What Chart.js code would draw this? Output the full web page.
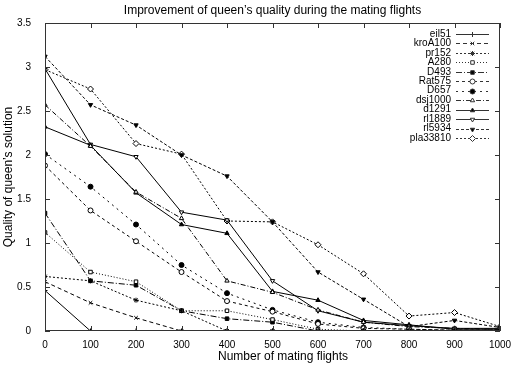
<!DOCTYPE html>
<html>
<head>
<meta charset="utf-8">
<title>Improvement of queen's quality during the mating flights</title>
<script src="https://cdn.jsdelivr.net/npm/chart.js"></script>
<style>
  html, body { margin: 0; padding: 0; background: #fff; }
  .chart__container { position: relative; width: 513px; height: 366px; }
</style>
</head>
<body>
<div class="chart__container">
  <canvas id="my-chart" width="513" height="366"></canvas>
</div>
<script>
const flights = [0, 100, 200, 300, 400, 500, 600, 700, 800, 900, 1000];
const yTicks = [0, 0.5, 1, 1.5, 2, 2.5, 3, 3.5];

const eil51    = [0.46, 0, 0, 0, 0, 0, 0, 0, 0, 0, 0];
const kroA100  = [0.56, 0.32, 0.15, 0, 0, 0, 0, 0, 0, 0, 0];
const pr152    = [0.62, 0.57, 0.35, 0.23, 0, 0, 0, 0, 0, 0, 0];
const A280     = [1.12, 0.67, 0.56, 0.23, 0.23, 0.13, 0.02, 0, 0, 0, 0];
const D493     = [1.34, 0.57, 0.52, 0.23, 0.14, 0.10, 0, 0, 0, 0, 0];
const Rat575   = [1.88, 1.37, 1.02, 0.67, 0.34, 0.22, 0.08, 0.03, 0.02, 0.01, 0.01];
const D657     = [2.01, 1.64, 1.21, 0.75, 0.43, 0.24, 0.10, 0.04, 0.02, 0.01, 0.01];
const dsj1000  = [2.57, 2.10, 1.58, 1.28, 0.57, 0.44, 0.24, 0.10, 0.05, 0.03, 0.02];
const d1291    = [2.32, 2.11, 1.57, 1.21, 1.11, 0.45, 0.35, 0.12, 0.07, 0.02, 0.02];
const rl1889   = [2.98, 2.12, 1.98, 1.35, 1.26, 0.57, 0.23, 0.10, 0.06, 0.03, 0.03];
const rl5934   = [3.12, 2.57, 2.34, 2.00, 1.76, 1.24, 0.67, 0.36, 0.05, 0.12, 0.04];
const pla33810 = [2.97, 2.75, 2.13, 2.01, 1.25, 1.24, 0.98, 0.65, 0.17, 0.21, 0.05];

const names = ['eil51', 'kroA100', 'pr152', 'A280', 'D493', 'Rat575', 'D657',
  'dsj1000', 'd1291', 'rl1889', 'rl5934', 'pla33810'];
const values = [eil51, kroA100, pr152, A280, D493, Rat575, D657,
  dsj1000, d1291, rl1889, rl5934, pla33810];

// gnuplot-ish line/point types
const dashes = [[], [4, 3], [2, 2], [1, 2], [6, 2, 1, 2], [3, 3], [2, 4],
  [5, 2, 1, 2], [], [], [3, 2], [2, 2]];
const markers = ['cross', 'crossRot', 'star', 'rect', 'rect', 'circle', 'circle',
  'triangle', 'triangle', 'triangle', 'triangle', 'rectRot'];
const filled = [false, false, false, false, true, false, true,
  false, true, false, true, false];
const rotations = [0, 0, 0, 0, 0, 0, 0, 0, 0, 180, 180, 0];

const FONT = '"Liberation Sans", Arial, Helvetica, sans-serif';

const datasets = names.map((name, i) => ({
  label: name,
  data: flights.map((f, j) => ({ x: f, y: values[i][j] })),
  borderColor: '#000',
  borderWidth: 1,
  borderDash: dashes[i],
  pointStyle: markers[i],
  pointRotation: rotations[i],
  pointRadius: markers[i] === 'rectRot' ? 3 : 2.5,
  pointBorderWidth: 1,
  pointBorderColor: '#000',
  pointBackgroundColor: filled[i] ? '#000' : '#fff',
  fill: false,
  tension: 0,
}));

// frame, inward ticks, title, axis titles and legend the gnuplot way
const gnuplotDecor = {
  id: 'gnuplotDecor',
  afterDatasetsDraw(chart) {
    const { ctx, chartArea: a, scales } = chart;
    ctx.save();
    ctx.strokeStyle = '#333';
    ctx.lineWidth = 1;
    ctx.setLineDash([]);
    ctx.strokeRect(a.left + 0.5, a.top + 0.5, a.right - a.left - 1, a.bottom - a.top - 1);

    const tl = 5;
    ctx.beginPath();
    scales.x.ticks.forEach(t => {
      const px = Math.round(scales.x.getPixelForValue(t.value)) + 0.5;
      ctx.moveTo(px, a.bottom); ctx.lineTo(px, a.bottom - tl);
      ctx.moveTo(px, a.top); ctx.lineTo(px, a.top + tl);
    });
    scales.y.ticks.forEach(t => {
      const py = Math.round(scales.y.getPixelForValue(t.value)) + 0.5;
      ctx.moveTo(a.left, py); ctx.lineTo(a.left + tl, py);
      ctx.moveTo(a.right, py); ctx.lineTo(a.right - tl, py);
    });
    ctx.stroke();

    // legend
    ctx.font = '10px ' + FONT;
    ctx.fillStyle = '#000';
    ctx.textAlign = 'right';
    ctx.textBaseline = 'middle';
    const textRight = a.right - 49;
    const lineL = a.right - 44, lineR = a.right - 11;
    chart.data.datasets.forEach((ds, i) => {
      const y = a.top + 11 + i * 9.45;
      ctx.fillText(ds.label, textRight, y);
      ctx.beginPath();
      ctx.setLineDash(ds.borderDash);
      ctx.moveTo(lineL, Math.round(y) + 0.5);
      ctx.lineTo(lineR, Math.round(y) + 0.5);
      ctx.stroke();
      ctx.setLineDash([]);
      ctx.fillStyle = ds.pointBackgroundColor;
      Chart.helpers.drawPoint(ctx, {
        pointStyle: ds.pointStyle,
        rotation: ds.pointRotation,
        radius: ds.pointRadius,
        borderWidth: 1,
      }, (lineL + lineR) / 2, Math.round(y) + 0.5);
      ctx.fillStyle = '#000';
    });

    // titles
    ctx.font = '12px ' + FONT;
    ctx.textAlign = 'center';
    ctx.fillText("Improvement of queen\u2019s quality during the mating flights", (a.left + a.right) / 2, 11);
    ctx.fillText('Number of mating flights', 283, 357);
    ctx.translate(9, (a.top + a.bottom) / 2);
    ctx.rotate(-Math.PI / 2);
    ctx.fillText("Quality of queen\u2019s solution", 0, 0);
    ctx.restore();
  },
};

new Chart(document.getElementById('my-chart'), {
  type: 'line',
  data: { datasets },
  options: {
    responsive: false,
    animation: false,
    events: [],
    layout: { padding: { top: 23, right: 13, left: 0, bottom: 0 } },
    plugins: { legend: { display: false }, tooltip: { enabled: false }, title: { display: false } },
    scales: {
      x: {
        type: 'linear',
        min: 0,
        max: 1000,
        afterFit: s => { s.height = 35; },
        afterBuildTicks: s => { s.ticks = flights.map(v => ({ value: v })); },
        ticks: { color: '#000', font: { family: FONT, size: 10 }, padding: 0, maxRotation: 0,
          callback: v => String(v) },
        grid: { display: false },
        border: { display: false },
      },
      y: {
        min: 0,
        max: 3.5,
        afterFit: s => { s.width = 45; },
        afterBuildTicks: s => { s.ticks = yTicks.map(v => ({ value: v })); },
        ticks: { color: '#000', font: { family: FONT, size: 10 }, padding: 6,
          callback: v => String(v) },
        grid: { display: false },
        border: { display: false },
      },
    },
  },
  plugins: [gnuplotDecor],
});
</script>
</body>
</html>
